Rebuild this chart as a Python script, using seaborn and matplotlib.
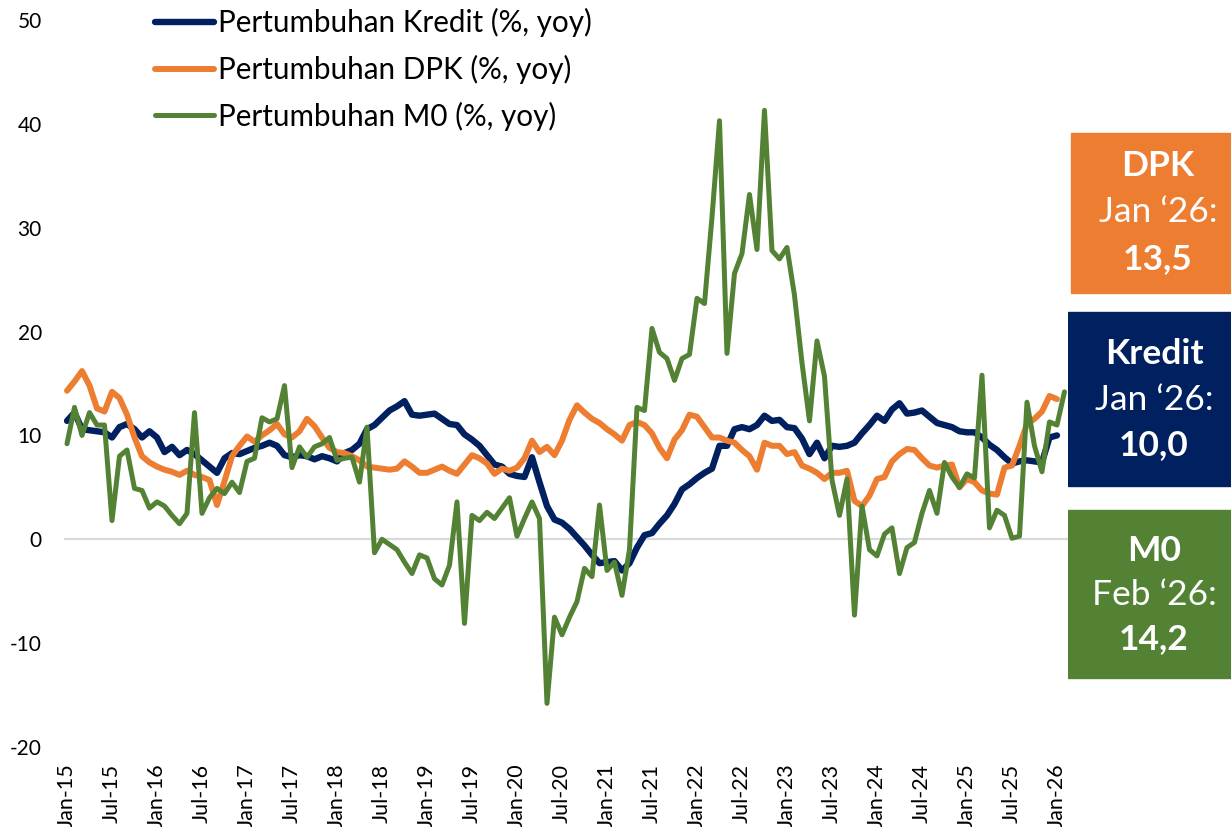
import numpy as np
import pandas as pd
import seaborn as sns
import matplotlib.pyplot as plt
from matplotlib.patches import Rectangle

# monthly growth, % yoy, Jan-15 onward
kredit = [11.4, 12.2, 10.6, 10.5, 10.4, 10.3, 9.8, 10.8, 11.1, 10.6,
          9.8, 10.4, 9.8, 8.4, 8.9, 8.1, 8.6, 8.2, 7.6, 7.0,
          6.4, 7.8, 8.3, 8.2, 8.5, 8.8, 9.0, 9.3, 9.0, 8.1,
          7.9, 8.1, 8.0, 7.7, 8.0, 7.8, 7.5, 8.3, 8.6, 9.2,
          10.6, 11.0, 11.7, 12.4, 12.8, 13.3, 12.0, 11.9, 12.0, 12.1,
          11.6, 11.1, 11.0, 10.1, 9.6, 9.0, 8.1, 7.2, 7.0, 6.3,
          6.1, 6.0, 7.9, 5.5, 3.2, 1.9, 1.6, 1.0, 0.2, -0.6,
          -1.5, -2.3, -2.2, -2.1, -3.0, -2.3, -0.8, 0.4, 0.6, 1.5,
          2.3, 3.4, 4.8, 5.3, 5.9, 6.4, 6.8, 9.0, 9.0, 10.6,
          10.8, 10.6, 11.0, 11.9, 11.4, 11.5, 10.8, 10.7, 9.7, 8.2,
          9.3, 7.8, 9.0, 8.9, 9.0, 9.3, 10.2, 11.0, 11.9, 11.4,
          12.5, 13.1, 12.1, 12.2, 12.4, 11.8, 11.2, 11.0, 10.8, 10.4,
          10.3, 10.3, 9.8, 9.1, 8.6, 7.9, 7.3, 7.5, 7.6, 7.5,
          7.4, 9.8, 10.0]

dpk = [14.3, 15.2, 16.2, 14.8, 12.6, 12.3, 14.2, 13.6, 12.0, 9.8,
       8.0, 7.4, 7.0, 6.7, 6.5, 6.2, 6.6, 6.2, 6.0, 5.7,
       3.3, 5.6, 8.0, 9.0, 9.9, 9.4, 10.0, 10.5, 11.1, 10.1,
       9.8, 10.4, 11.6, 10.9, 9.8, 8.8, 8.4, 8.3, 8.0, 7.6,
       7.0, 6.9, 6.8, 6.7, 6.8, 7.5, 7.0, 6.4, 6.4, 6.7,
       7.0, 6.6, 6.3, 7.2, 8.1, 7.8, 7.3, 6.3, 6.8, 6.6,
       6.9, 7.8, 9.5, 8.4, 8.9, 8.1, 9.5, 11.5, 12.9, 12.2,
       11.6, 11.2, 10.6, 10.1, 9.5, 11.0, 11.3, 11.0, 10.2, 8.8,
       7.8, 9.6, 10.5, 12.0, 11.8, 10.8, 9.8, 9.8, 9.5, 9.3,
       8.6, 8.0, 6.7, 9.3, 9.0, 9.0, 8.2, 8.4, 7.1, 6.8,
       6.4, 5.8, 6.4, 6.4, 6.6, 3.7, 3.2, 4.2, 5.8, 6.0,
       7.5, 8.2, 8.7, 8.6, 7.8, 7.1, 6.9, 7.1, 7.2, 5.0,
       5.8, 5.5, 4.7, 4.4, 4.3, 6.9, 7.1, 9.0, 11.1, 11.6,
       12.3, 13.8, 13.5]

m0 = [9.2, 12.7, 10.0, 12.2, 11.0, 11.0, 1.8, 8.0, 8.6, 4.9,
      4.7, 3.0, 3.6, 3.2, 2.3, 1.5, 2.5, 12.2, 2.5, 4.0,
      4.9, 4.4, 5.5, 4.5, 7.5, 7.8, 11.7, 11.3, 11.6, 14.8,
      6.9, 8.9, 7.9, 8.9, 9.2, 9.8, 7.6, 7.8, 7.9, 5.5,
      10.8, -1.3, 0.0, -0.5, -1.0, -2.2, -3.3, -1.5, -1.8, -3.8,
      -4.4, -2.5, 3.6, -8.1, 2.3, 1.8, 2.6, 2.0, 3.0, 4.0,
      0.3, 2.0, 3.6, 2.0, -15.8, -7.5, -9.2, -7.5, -6.0, -2.8,
      -3.6, 3.3, -3.0, -2.2, -5.4, -1.0, 12.7, 12.4, 20.3, 18.0,
      17.4, 15.3, 17.4, 17.8, 23.2, 22.7, 31.0, 40.3, 17.9, 25.6,
      27.5, 33.2, 27.9, 41.3, 27.8, 27.0, 28.1, 23.5, 17.0, 11.4,
      19.1, 15.7, 5.7, 2.3, 5.8, -7.3, 3.2, -1.0, -1.6, 0.5,
      1.1, -3.3, -0.8, -0.3, 2.5, 4.7, 2.5, 7.4, 6.0, 5.0,
      6.3, 5.9, 15.8, 1.1, 2.8, 2.3, 0.1, 0.3, 13.2, 9.0,
      6.5, 11.3, 11.0, 14.2]

months = pd.date_range("2015-01-01", periods=len(m0), freq="MS")
tick_idx = list(range(0, len(m0), 6))
tick_labels = [months[i].strftime("%b-%y") for i in tick_idx]

labels = ["Pertumbuhan Kredit (%, yoy)", "Pertumbuhan DPK (%, yoy)", "Pertumbuhan M0 (%, yoy)"]
colors = ["#002060", "#ED7D31", "#548235"]
widths = [4.6, 4.3, 3.6]

boxes = [("DPK", "Jan \u201826:", "13,5"),
         ("Kredit", "Jan \u201826:", "10,0"),
         ("M0", "Feb \u201826:", "14,2")]

sns.set_style("white")
plt.rcParams["font.family"] = ["Lato", "DejaVu Sans"]
plt.rcParams["axes.unicode_minus"] = False

W, H = 1231, 827
fig = plt.figure(figsize=(W / 100, H / 100), dpi=100)
ax = fig.add_axes([64 / W, 1 - 747 / H, (1068 - 64) / W, (747 - 20) / H])

ax.axhline(0, color="#D9D9D9", lw=1.6, zorder=1)
for series, lab, col, lw in zip([kredit, dpk, m0], labels, colors, widths):
    df = pd.DataFrame({"idx": np.arange(len(series)), "val": series})
    sns.lineplot(data=df, x="idx", y="val", ax=ax, color=col, lw=lw, label=lab,
                 solid_capstyle="round", solid_joinstyle="round", zorder=3)

ax.set_xlim(-0.4, 133.47)
ax.set_ylim(-20, 50)
ax.set_yticks(range(-20, 51, 10))
ax.set_xticks(tick_idx)
ax.set_xticklabels(tick_labels, rotation=90, fontsize=15.5)
ax.tick_params(axis="y", length=0, pad=16, labelsize=15, labelcolor="black")
ax.tick_params(axis="x", length=0, pad=12, labelcolor="black")
ax.set_xlabel("")
ax.set_ylabel("")
for s in ax.spines.values():
    s.set_visible(False)

leg = ax.legend(loc="upper left", bbox_to_anchor=(155 / W, 1 - 8 / H), bbox_transform=fig.transFigure,
                frameon=False, fontsize=21.3, handlelength=2.0, handletextpad=0.13,
                labelspacing=0.6, borderpad=0, borderaxespad=0)
for t in leg.get_texts():
    t.set_color("black")

# value boxes on the right
rects = [(1071, 133, 293), (1068, 312, 486), (1068, 510, 678)]
centers = [(1158, [166, 212, 259]), (1154, [354, 400, 445]), (1154, [551, 595, 639])]
for (x0, y0, y1), col, (cx, ys), (name, date, val) in zip(rects, [colors[1], colors[0], colors[2]], centers, boxes):
    fig.add_artist(Rectangle((x0 / W, 1 - y1 / H), (W - x0) / W, (y1 - y0) / H,
                             transform=fig.transFigure, color=col, zorder=0))
    fig.text(cx / W, 1 - ys[0] / H, name, color="white", fontsize=25.5, fontweight="bold", ha="center", va="center")
    fig.text(cx / W, 1 - ys[1] / H, date, color="white", fontsize=25.5, ha="center", va="center")
    fig.text(cx / W, 1 - ys[2] / H, val, color="white", fontsize=25.5, fontweight="bold", ha="center", va="center")

fig.savefig("out.png", dpi=100)
